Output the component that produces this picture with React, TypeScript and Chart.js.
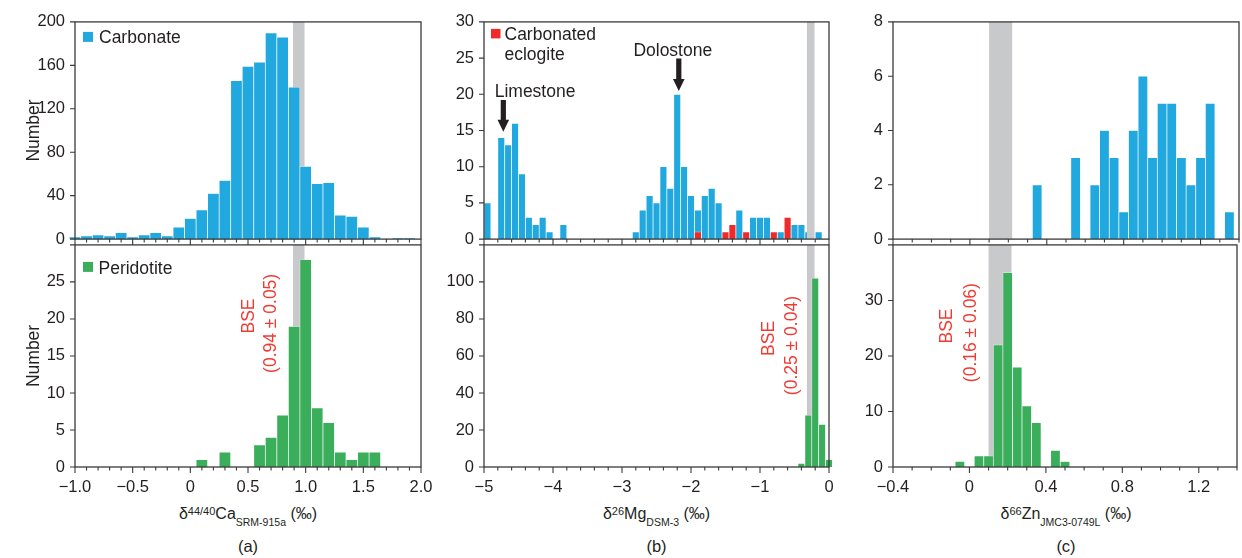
import React, { useEffect, useRef } from "react";
import { Chart, registerables } from "chart.js";

Chart.register(...registerables);

// ---------------- data ----------------
// (a) delta44/40Ca
const caCarbonateBins = [-1.0, -0.9, -0.8, -0.7, -0.6, -0.5, -0.4, -0.3, -0.2, -0.1, 0.0, 0.1, 0.2, 0.3, 0.4, 0.5, 0.6, 0.7, 0.8, 0.9, 1.0, 1.1, 1.2, 1.3, 1.4, 1.5, 1.6, 1.7, 1.8, 1.9];
const caCarbonateCounts = [2, 3, 4, 3, 6, 2, 4, 6, 3, 11, 19, 27, 42, 54, 146, 159, 163, 190, 186, 140, 67, 51, 52, 22, 21, 11, 2, 0, 1, 1];
const caPeridotiteBins = [0.1, 0.3, 0.6, 0.7, 0.8, 0.9, 1.0, 1.1, 1.2, 1.3, 1.4, 1.5, 1.6];
const caPeridotiteCounts = [1, 2, 3, 4, 7, 19, 28, 8, 6, 2, 1, 2, 2];
const caBSE = [0.89, 0.99];
const caXTickValues = [-1.0, -0.5, 0, 0.5, 1.0, 1.5, 2.0];
const caXTickLabels = ["\u22121.0", "\u22120.5", "0", "0.5", "1.0", "1.5", "2.0"];

// (b) delta26Mg
const mgCarbonateBins = [-4.95, -4.75, -4.65, -4.55, -4.45, -4.35, -4.25, -4.15, -4.05, -3.85, -2.8, -2.7, -2.6, -2.5, -2.4, -2.3, -2.2, -2.1, -2.0, -1.9, -1.8, -1.7, -1.6, -1.3, -1.1, -1.0, -0.9, -0.7, -0.5, -0.4, -0.3, -0.15];
const mgCarbonateCounts = [5, 14, 13, 16, 9, 3, 2, 3, 1, 2, 1, 4, 6, 5, 10, 7, 20, 10, 6, 4, 6, 7, 5, 4, 3, 3, 3, 1, 2, 2, 1, 1];
const mgEclogiteBins = [-1.9, -1.5, -1.4, -1.2, -0.8, -0.6];
const mgEclogiteCounts = [1, 1, 2, 1, 1, 3];
const mgPeridotiteBins = [-0.4, -0.3, -0.2, -0.1, 0.0];
const mgPeridotiteCounts = [2, 28, 102, 23, 4];
const mgBSE = [-0.32, -0.21];
const mgXTickValues = [-5, -4, -3, -2, -1, 0];
const mgXTickLabels = ["\u22125", "\u22124", "\u22123", "\u22122", "\u22121", "0"];

// (c) delta66Zn
const znCarbonateBins = [0.35, 0.55, 0.65, 0.70, 0.75, 0.80, 0.85, 0.90, 0.95, 1.00, 1.05, 1.10, 1.15, 1.20, 1.25, 1.35];
const znCarbonateCounts = [2, 3, 2, 4, 3, 1, 4, 6, 3, 5, 5, 3, 2, 3, 5, 1];
const znPeridotiteBins = [-0.05, 0.05, 0.10, 0.15, 0.20, 0.25, 0.30, 0.35, 0.45, 0.50];
const znPeridotiteCounts = [1, 2, 2, 22, 35, 18, 11, 8, 3, 1];
const znBSE = [0.10, 0.22];
const znXTickValues = [-0.4, 0, 0.4, 0.8, 1.2];
const znXTickLabels = ["\u22120.4", "0", "0.4", "0.8", "1.2"];

// ---------------- styles ----------------
const FONT = "'Liberation Sans', Arial, Helvetica, sans-serif";
const INK = "#231f20";
const FRAME = "#3a3a3a";
const BLUE = "#21a8df";
const GREEN = "#3bae5b";
const RED = "#ee2a2a";
const NOTE_RED = "#ef3b33";
const BAND = "#c8c9cb";
const EDGE = "rgba(255,255,255,0.55)";
const TICK_FONT = 16.5;
const TEXT_FONT = 17.5;

type Series = { bins: number[]; counts: number[]; color: string; order: number; noClip?: boolean };
type Note = { x: number; y: number; text: string; rotate?: boolean; color: string };
type Arrow = { x: number; from: number; to: number };
type Legend = { color: string; lines: string[]; box: number[]; textX: number; baselines: number[] };
type Spec = {
  plot: { left: number; top: number; width: number; height: number };
  padRight: number;
  showXLabels: boolean;
  x: { min: number; max: number; step: number; majors: number[]; labels: string[] };
  y: { min: number; max: number; step: number; hideTop: boolean; title?: string };
  series: Series[];
  band: number[];
  bandFront?: boolean;
  legend?: Legend;
  notes?: Note[];
  arrows?: Arrow[];
};

const PAD_L = 70;
const PAD_T = 12;
const near = (a: number, b: number) => Math.abs(a - b) < 1e-6;

function Panel({ spec }: { spec: Spec }) {
  const ref = useRef<HTMLCanvasElement>(null);
  const xH = spec.showXLabels ? 32 : 12;
  const cw = PAD_L + spec.plot.width + spec.padRight;
  const ch = PAD_T + spec.plot.height + xH;

  useEffect(() => {
    const isMajor = (v: number) => spec.x.majors.some((m) => near(m, v));
    const labelFor = (v: number) => {
      const i = spec.x.majors.findIndex((m) => near(m, v));
      return i >= 0 ? spec.x.labels[i] : "";
    };

    const drawBand = (chart: any) => {
      const { ctx, chartArea: a, scales } = chart;
      const x0 = scales.x.getPixelForValue(spec.band[0]);
      const x1 = scales.x.getPixelForValue(spec.band[1]);
      ctx.save();
      ctx.fillStyle = BAND;
      ctx.fillRect(x0, a.top, x1 - x0, a.bottom - a.top);
      ctx.restore();
    };

    const decor = {
      id: "decor",
      beforeDatasetsDraw(chart: any) {
        if (!spec.bandFront) drawBand(chart);
      },
      afterDatasetsDraw(chart: any) {
        if (spec.bandFront) drawBand(chart);
      },
      afterDraw(chart: any) {
        const { ctx, chartArea: a, scales } = chart;
        const xs = scales.x;
        const ys = scales.y;
        ctx.save();
        // frame
        ctx.strokeStyle = FRAME;
        ctx.lineWidth = 1.3;
        ctx.strokeRect(a.left, a.top, a.right - a.left, a.bottom - a.top);
        // ticks
        ctx.lineWidth = 1.1;
        ctx.beginPath();
        xs.ticks.forEach((t: any) => {
          const px = xs.getPixelForValue(t.value);
          const len = isMajor(t.value) ? 6 : 3.5;
          ctx.moveTo(px, a.bottom);
          ctx.lineTo(px, a.bottom + len);
        });
        ys.ticks.forEach((t: any) => {
          const py = ys.getPixelForValue(t.value);
          ctx.moveTo(a.left - 5, py);
          ctx.lineTo(a.left, py);
        });
        ctx.stroke();

        // legend
        if (spec.legend) {
          const L = spec.legend;
          ctx.fillStyle = L.color;
          ctx.fillRect(a.left + L.box[0], a.top + L.box[1], L.box[2], L.box[2]);
          ctx.fillStyle = INK;
          ctx.font = `${TEXT_FONT}px ${FONT}`;
          ctx.textAlign = "left";
          ctx.textBaseline = "alphabetic";
          L.lines.forEach((line, i) => ctx.fillText(line, a.left + L.textX, a.top + L.baselines[i]));
        }

        // notes
        (spec.notes || []).forEach((n) => {
          const px = xs.getPixelForValue(n.x);
          const py = ys.getPixelForValue(n.y);
          ctx.save();
          ctx.fillStyle = n.color;
          ctx.font = `${TEXT_FONT}px ${FONT}`;
          if (n.rotate) {
            ctx.translate(px, py);
            ctx.rotate(-Math.PI / 2);
            ctx.textAlign = "center";
            ctx.textBaseline = "middle";
            ctx.fillText(n.text, 0, 0);
          } else {
            ctx.textAlign = "center";
            ctx.textBaseline = "alphabetic";
            ctx.fillText(n.text, px, py);
          }
          ctx.restore();
        });

        // arrows
        (spec.arrows || []).forEach((ar) => {
          const px = xs.getPixelForValue(ar.x);
          const y0 = ys.getPixelForValue(ar.from);
          const y1 = ys.getPixelForValue(ar.to);
          const sw = 2.6;
          const hw = 5.8;
          const hl = 12;
          ctx.fillStyle = INK;
          ctx.beginPath();
          ctx.moveTo(px - sw, y0);
          ctx.lineTo(px + sw, y0);
          ctx.lineTo(px + sw, y1 - hl);
          ctx.lineTo(px + hw, y1 - hl);
          ctx.lineTo(px, y1);
          ctx.lineTo(px - hw, y1 - hl);
          ctx.lineTo(px - sw, y1 - hl);
          ctx.closePath();
          ctx.fill();
        });
        ctx.restore();
      },
    };

    const chart = new Chart(ref.current as HTMLCanvasElement, {
      type: "bar",
      data: {
        datasets: spec.series.map((s) => ({
          data: s.bins
            .map((b, i) => ({ x: b, y: s.counts[i] }))
            .filter((p) => p.y > 0),
          backgroundColor: s.color,
          borderColor: EDGE,
          borderWidth: 0.7,
          barPercentage: 1,
          categoryPercentage: 1,
          grouped: false,
          order: s.order,
          clip: s.noClip ? false : undefined,
        })),
      } as any,
      options: {
        responsive: false,
        animation: false,
        devicePixelRatio: 1,
        events: [],
        layout: { padding: { left: 0, top: PAD_T, right: spec.padRight, bottom: 0 } },
        plugins: { legend: { display: false }, tooltip: { enabled: false } },
        scales: {
          x: {
            type: "linear",
            min: spec.x.min,
            max: spec.x.max,
            offset: false,
            grid: { display: false, drawTicks: true, tickLength: 6 },
            border: { display: false },
            ticks: {
              display: spec.showXLabels,
              stepSize: spec.x.step,
              autoSkip: false,
              maxRotation: 0,
              minRotation: 0,
              padding: 5,
              color: INK,
              font: { family: FONT, size: TICK_FONT },
              callback: (v: any) => labelFor(Number(v)),
            },
            afterFit: (s: any) => {
              s.height = xH;
            },
          },
          y: {
            type: "linear",
            min: spec.y.min,
            max: spec.y.max,
            grid: { display: false, drawTicks: true, tickLength: 5 },
            border: { display: false },
            ticks: {
              stepSize: spec.y.step,
              padding: 5,
              color: INK,
              font: { family: FONT, size: TICK_FONT },
              callback: (v: any) => (spec.y.hideTop && near(Number(v), spec.y.max) ? "" : String(v)),
            },
            title: spec.y.title
              ? {
                  display: true,
                  text: spec.y.title,
                  color: INK,
                  font: { family: FONT, size: TEXT_FONT },
                  padding: { top: 19, bottom: 0 },
                }
              : { display: false },
            afterFit: (s: any) => {
              s.width = PAD_L;
            },
          },
        },
      } as any,
      plugins: [decor],
    });
    return () => chart.destroy();
  }, []);

  return (
    <canvas
      ref={ref}
      width={cw}
      height={ch}
      style={{
        position: "absolute",
        left: spec.plot.left - PAD_L,
        top: spec.plot.top - PAD_T,
        width: cw,
        height: ch,
        zIndex: spec.showXLabels ? 1 : 2,
      }}
    />
  );
}

// ---------------- layout ----------------
const TOP = 19;
const MID = 242;
const BOTTOM = 467;
const colA = { left: 75, width: 346 };
const colB = { left: 484, width: 345 };
const colC = { left: 893, width: 346 };

const specs: Spec[] = [
  {
    plot: { left: colA.left, top: TOP, width: colA.width, height: MID - TOP },
    padRight: 20,
    showXLabels: false,
    x: { min: -1, max: 2, step: 0.1, majors: caXTickValues, labels: caXTickLabels },
    y: { min: 0, max: 200, step: 40, hideTop: false, title: "Number" },
    series: [{ bins: caCarbonateBins, counts: caCarbonateCounts, color: BLUE, order: 1, noClip: true }],
    band: caBSE,
    legend: { color: BLUE, lines: ["Carbonate"], box: [8, 10, 10], textX: 24, baselines: [21.5] },
  },
  {
    plot: { left: colA.left, top: MID, width: colA.width, height: BOTTOM - MID },
    padRight: 20,
    showXLabels: true,
    x: { min: -1, max: 2, step: 0.1, majors: caXTickValues, labels: caXTickLabels },
    y: { min: 0, max: 30, step: 5, hideTop: true, title: "Number" },
    series: [{ bins: caPeridotiteBins, counts: caPeridotiteCounts, color: GREEN, order: 1 }],
    band: caBSE,
    legend: { color: GREEN, lines: ["Peridotite"], box: [8, 17, 10], textX: 23.5, baselines: [29.5] },
    notes: [
      { x: 0.51, y: 20.4, text: "BSE", rotate: true, color: NOTE_RED },
      { x: 0.70, y: 19.4, text: "(0.94 \u00b1 0.05)", rotate: true, color: NOTE_RED },
    ],
  },
  {
    plot: { left: colB.left, top: TOP, width: colB.width, height: MID - TOP },
    padRight: 20,
    showXLabels: false,
    x: { min: -5, max: 0, step: 0.2, majors: mgXTickValues, labels: mgXTickLabels },
    y: { min: 0, max: 30, step: 5, hideTop: false },
    series: [
      { bins: mgEclogiteBins, counts: mgEclogiteCounts, color: RED, order: 0 },
      { bins: mgCarbonateBins, counts: mgCarbonateCounts, color: BLUE, order: 1 },
    ],
    band: mgBSE,
    bandFront: true,
    legend: { color: RED, lines: ["Carbonated", "eclogite"], box: [7, 7, 9.5], textX: 20.5, baselines: [18.3, 37.7] },
    notes: [
      { x: -4.26, y: 19.64, text: "Limestone", color: INK },
      { x: -2.264, y: 25.25, text: "Dolostone", color: INK },
    ],
    arrows: [
      { x: -4.72, from: 19.2, to: 14.84 },
      { x: -2.177, from: 24.93, to: 20.45 },
    ],
  },
  {
    plot: { left: colB.left, top: MID, width: colB.width, height: BOTTOM - MID },
    padRight: 20,
    showXLabels: true,
    x: { min: -5, max: 0, step: 0.2, majors: mgXTickValues, labels: mgXTickLabels },
    y: { min: 0, max: 120, step: 20, hideTop: true },
    series: [{ bins: mgPeridotiteBins, counts: mgPeridotiteCounts, color: GREEN, order: 1, noClip: true }],
    band: mgBSE,
    notes: [
      { x: -0.87, y: 69.5, text: "BSE", rotate: true, color: NOTE_RED },
      { x: -0.536, y: 65.6, text: "(0.25 \u00b1 0.04)", rotate: true, color: NOTE_RED },
    ],
  },
  {
    plot: { left: colC.left, top: TOP, width: colC.width, height: MID - TOP },
    padRight: 3,
    showXLabels: false,
    x: { min: -0.4, max: 1.4, step: 0.1, majors: znXTickValues, labels: znXTickLabels },
    y: { min: 0, max: 8, step: 2, hideTop: false },
    series: [{ bins: znCarbonateBins, counts: znCarbonateCounts, color: BLUE, order: 1 }],
    band: znBSE,
  },
  {
    plot: { left: colC.left, top: MID, width: colC.width, height: BOTTOM - MID },
    padRight: 3,
    showXLabels: true,
    x: { min: -0.4, max: 1.4, step: 0.1, majors: znXTickValues, labels: znXTickLabels },
    y: { min: 0, max: 40, step: 10, hideTop: true },
    series: [{ bins: znPeridotiteBins, counts: znPeridotiteCounts, color: GREEN, order: 1 }],
    band: znBSE,
    notes: [
      { x: -0.116, y: 25.4, text: "BSE", rotate: true, color: NOTE_RED },
      { x: 0.009, y: 24.2, text: "(0.16 \u00b1 0.06)", rotate: true, color: NOTE_RED },
    ],
  },
];

function AxisTitle({ cx, sup, main, sub }: { cx: number; sup: string; main: string; sub: string }) {
  return (
    <div
      style={{
        position: "absolute",
        left: cx - 150,
        top: 503.5,
        width: 300,
        textAlign: "center",
        fontFamily: FONT,
        fontSize: 16,
        lineHeight: "20px",
        color: INK,
        whiteSpace: "nowrap",
      }}
    >
      {"\u03b4"}
      <span style={{ fontSize: 11, position: "relative", top: -3.6 }}>{sup}</span>
      {main}
      <span style={{ fontSize: 10.5, position: "relative", top: 7 }}>{sub}</span>
      {" (\u2030)"}
    </div>
  );
}

function PanelLabel({ cx, text }: { cx: number; text: string }) {
  return (
    <div
      style={{
        position: "absolute",
        left: cx - 50,
        top: 535.8,
        width: 100,
        textAlign: "center",
        fontFamily: FONT,
        fontSize: 16.5,
        lineHeight: "20px",
        color: INK,
      }}
    >
      {text}
    </div>
  );
}

export default function App() {
  const cA = colA.left + colA.width / 2;
  const cB = colB.left + colB.width / 2;
  const cC = colC.left + colC.width / 2;
  return (
    <div
      style={{
        position: "absolute",
        left: 0,
        top: 0,
        width: 1242,
        height: 558,
        overflow: "hidden",
        background: "#ffffff",
      }}
    >
      {specs.map((s, i) => (
        <Panel key={i} spec={s} />
      ))}
      <AxisTitle cx={cA} sup="44/40" main="Ca" sub="SRM-915a" />
      <AxisTitle cx={cB} sup="26" main="Mg" sub="DSM-3" />
      <AxisTitle cx={cC} sup="66" main="Zn" sub="JMC3-0749L" />
      <PanelLabel cx={cA} text="(a)" />
      <PanelLabel cx={cB} text="(b)" />
      <PanelLabel cx={cC} text="(c)" />
    </div>
  );
}
